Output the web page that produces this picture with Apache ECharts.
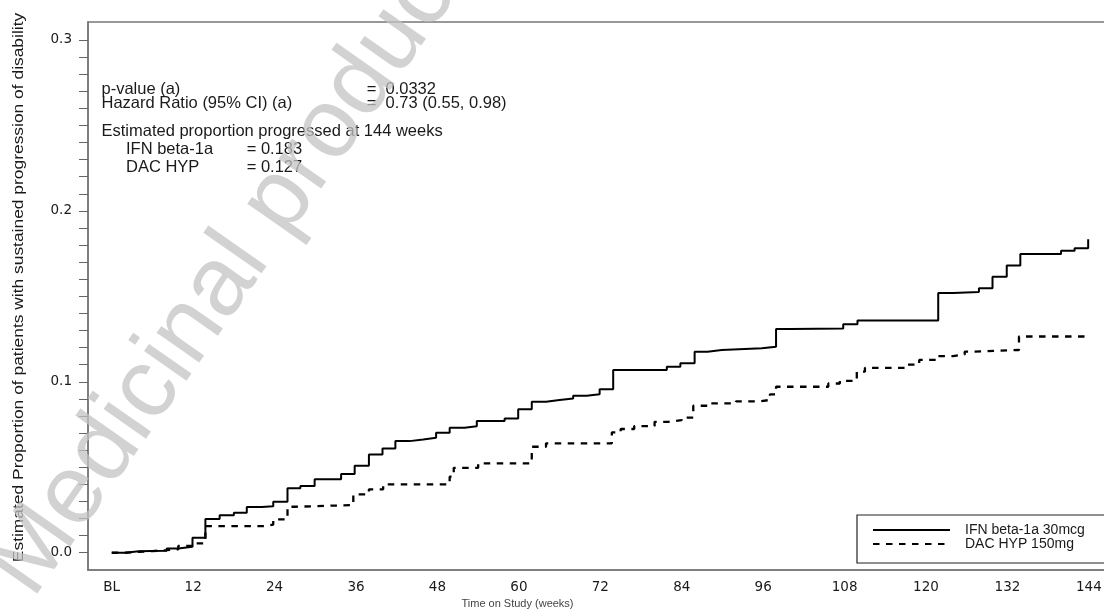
<!DOCTYPE html>
<html>
<head>
<meta charset="utf-8">
<script src="https://cdn.jsdelivr.net/npm/echarts@6/dist/echarts.min.js"></script>
<style>
  html, body { margin: 0; padding: 0; background: #fff; }
  #chart { width: 1104px; height: 609px; }
</style>
</head>
<body>
<div id="chart"></div>
<script>
// ---- Data (weeks, estimated proportion progressed) ----
const ifnWeeks = [0, 2, 4, 5.7, 8.1, 9.8, 11.9, 13.8, 15.9, 18, 19.9, 22.1, 23.8, 25.9, 27.8, 29.9, 33.8, 35.8, 37.9, 39.9, 41.8, 43.9, 45.9, 47.8, 49.8, 52, 53.8, 57.9, 59.9, 61.9, 64, 66, 68, 70, 71.9, 73.9, 81.8, 83.8, 85.9, 87.8, 89.9, 95.8, 97.9, 100, 107.8, 109.9, 121.8, 124, 127.8, 129.8, 131.9, 133.9, 139.9, 141.9, 143.9];
const ifnProp  = [0, 0.0008, 0.001, 0.0012, 0.0025, 0.0035, 0.0088, 0.0197, 0.022, 0.0234, 0.0268, 0.0272, 0.0298, 0.0377, 0.039, 0.043, 0.046, 0.0509, 0.0575, 0.061, 0.0653, 0.0663, 0.0673, 0.0702, 0.0731, 0.074, 0.077, 0.0786, 0.0839, 0.0883, 0.0893, 0.0903, 0.0919, 0.0927, 0.0956, 0.1069, 0.1088, 0.1108, 0.1176, 0.1186, 0.1196, 0.1205, 0.1309, 0.1312, 0.1336, 0.1358, 0.152, 0.1526, 0.1547, 0.1615, 0.168, 0.1748, 0.1767, 0.1781, 0.1834];

const dacWeeks = [0, 2, 4, 6, 8.1, 9.8, 11.9, 13.8, 22.7, 23.8, 25.9, 27, 35.6, 37.9, 40, 49.8, 50.4, 54, 61.9, 64, 73.7, 75, 77, 80, 82, 84, 85.7, 88, 92, 95.6, 97, 97.9, 105.6, 107.3, 109.8, 111, 117, 119, 121.8, 124, 125.7, 127, 133.7, 144];
const dacProp  = [0, 0.0005, 0.001, 0.0015, 0.002, 0.004, 0.0055, 0.0156, 0.0165, 0.0195, 0.0269, 0.0279, 0.0342, 0.0371, 0.04, 0.0445, 0.0497, 0.0523, 0.062, 0.064, 0.0704, 0.0724, 0.0741, 0.0766, 0.0776, 0.079, 0.086, 0.0874, 0.0886, 0.0894, 0.0927, 0.0971, 0.099, 0.1006, 0.1059, 0.1082, 0.11, 0.1128, 0.115, 0.116, 0.1176, 0.1186, 0.1265, 0.1265];

const seriesNames = ['IFN beta-1a 30mcg', 'DAC HYP 150mg'];

// ---- Axis ticks / labels ----
const xTickValues = [0, 12, 24, 36, 48, 60, 72, 84, 96, 108, 120, 132, 144];
const xTickLabels = ['BL', '12', '24', '36', '48', '60', '72', '84', '96', '108', '120', '132', '144'];
const yLabelValues = [0, 0.1, 0.2, 0.3];
const yLabelTexts = ['0.0', '0.1', '0.2', '0.3'];
const yTickValues = [0, 0.01, 0.02, 0.03, 0.04, 0.05, 0.06, 0.07, 0.08, 0.09, 0.1, 0.11, 0.12, 0.13, 0.14, 0.15, 0.16, 0.17, 0.18, 0.19, 0.2, 0.21, 0.22, 0.23, 0.24, 0.25, 0.26, 0.27, 0.28, 0.29, 0.3];

// ---- Text ----
const yTitle = 'Estimated Proportion of patients with sustained progression of disability';
const xTitle = 'Time on Study (weeks)';
const annotLeft = ['p-value (a)', 'Hazard Ratio (95% CI) (a)', 'Estimated proportion progressed at 144 weeks'];
const annotRight = ['=  0.0332', '=  0.73 (0.55, 0.98)'];
const groupNames = ['IFN beta-1a', 'DAC HYP'];
const groupValues = ['= 0.183', '= 0.127'];
const watermark = 'Medicinal product';

const ifnData = ifnWeeks.map((w, i) => [w, ifnProp[i]]);
const dacData = dacWeeks.map((w, i) => [w, dacProp[i]]);

const SANS = '"Liberation Sans", Arial, sans-serif';
const TICKFONT = '"DejaVu Sans", Verdana, sans-serif';
const TXT = '#1a1a1a';

function txt(x, y, text, size, extra) {
  return Object.assign({
    type: 'text', x: x, y: y, z: 50,
    style: Object.assign({
      text: text, fontSize: size, fontFamily: SANS, fill: TXT,
      align: 'left', textAlign: 'left', verticalAlign: 'middle', textVerticalAlign: 'middle'
    }, (extra && extra.style) || {})
  }, (extra && extra.el) || {});
}

const chart = echarts.init(document.getElementById('chart'), null, { renderer: 'canvas' });

const option = {
  animation: false,
  backgroundColor: '#fff',
  grid: {
    left: 88, top: 22, width: 1028, height: 548,
    outerBoundsMode: 'none', containLabel: false,
    show: true, borderColor: '#777', borderWidth: 1.5, backgroundColor: 'transparent'
  },
  xAxis: {
    type: 'value', min: -3.5, max: 148,
    splitLine: { show: false },
    axisLine: { show: true, onZero: false, lineStyle: { color: '#777', width: 1.5 } },
    axisTick: { show: false },
    axisLabel: {
      customValues: xTickValues,
      formatter: v => xTickLabels[xTickValues.indexOf(v)],
      margin: 10, fontSize: 13.5, fontFamily: TICKFONT, color: TXT
    }
  },
  yAxis: {
    type: 'value', min: -0.0101, max: 0.3105,
    splitLine: { show: false },
    axisLine: { show: true, onZero: false, lineStyle: { color: '#777', width: 1.5 } },
    axisTick: { show: true, inside: false, length: 9, customValues: yTickValues, lineStyle: { color: '#666', width: 1 } },
    axisLabel: {
      customValues: yLabelValues,
      formatter: v => yLabelTexts[yLabelValues.indexOf(v)],
      margin: 16, fontSize: 13.5, fontFamily: TICKFONT, color: TXT
    }
  },
  legend: {
    data: seriesNames,
    orient: 'vertical',
    left: 857, top: 515,
    itemWidth: 77, itemHeight: 12, itemGap: 0,
    padding: [8, 22, 12, 15],
    borderColor: '#222', borderWidth: 1.2,
    backgroundColor: '#fff',
    itemStyle: { opacity: 0 },
    textStyle: { fontSize: 14, fontFamily: SANS, color: TXT, padding: [0, 0, 0, 10] }
  },
  series: [
    {
      name: seriesNames[0], type: 'line', step: 'end', data: ifnData,
      symbol: 'none', showSymbol: false,
      lineStyle: { color: '#000', width: 2, type: 'solid' },
      itemStyle: { color: '#000' }
    },
    {
      name: seriesNames[1], type: 'line', step: 'end', data: dacData,
      symbol: 'none', showSymbol: false,
      lineStyle: { color: '#000', width: 2.3, type: [6.5, 6.5] },
      itemStyle: { color: '#000' }
    }
  ],
  graphic: [
    // y-axis title (rotated)
    txt(18.7, 287.5, yTitle, 15, { style: { align: 'center', textAlign: 'center' }, el: { rotation: Math.PI / 2, scaleX: 1.16 } }),
    // x-axis title
    txt(517.5, 604, xTitle, 11, { style: { align: 'center', textAlign: 'center', fill: '#444' } }),
    // annotation block
    txt(101.5, 89, annotLeft[0], 16.5),
    txt(101.5, 103, annotLeft[1], 16.5),
    txt(366.7, 89, annotRight[0], 16.5),
    txt(366.7, 103, annotRight[1], 16.5),
    txt(101.5, 131.5, annotLeft[2], 16.5),
    txt(126, 149.5, groupNames[0], 16.5),
    txt(126, 167.5, groupNames[1], 16.5),
    txt(246.7, 149.5, groupValues[0], 16.5),
    txt(246.7, 167.5, groupValues[1], 16.5),
    // watermark
    {
      type: 'text', x: 231, y: 270, z: 200, rotation: 55 * Math.PI / 180,
      style: {
        text: watermark, fontSize: 98, fontFamily: SANS, fill: 'rgba(195,195,195,0.75)',
        align: 'center', textAlign: 'center', verticalAlign: 'middle', textVerticalAlign: 'middle'
      }
    }
  ]
};

chart.setOption(option);
</script>
</body>
</html>
